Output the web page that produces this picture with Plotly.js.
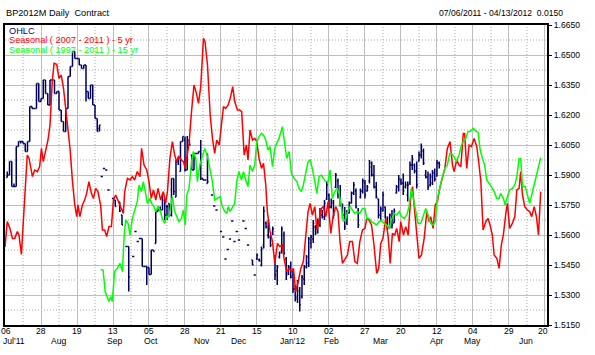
<!DOCTYPE html>
<html>
<head>
<meta charset="utf-8">
<script src="https://cdn.plot.ly/plotly-3.0.1.min.js"></script>
<style>html,body{margin:0;padding:0;background:#fff;}#chart{width:595px;height:355px;}</style>
</head>
<body>
<div id="chart"></div>
<script>
// ---------- DATA ----------
// x axis = trading-day number counted from 07/06/2011
const dayTickText = ['06','28','19','13','05','28','21','15','10','02','27','20','12','04','29','20'];
const dayTickDays = [0,16,32,48,64,80,96,112,128,144,160,176,192,208,224,240];
const monthNames = ["Jul'11","Aug","Sep","Oct","Nov","Dec","Jan'12","Feb","Mar","Apr","May","Jun"];
const monthDays  = [0,23.8,48.9,64.9,87.4,104,127.6,144.9,166.7,192,207.6,231.6];
const priceTicks = [1.515,1.530,1.545,1.560,1.575,1.590,1.605,1.620,1.635,1.650,1.665];

const ohlcDay = [1,2,3,4,5,6,7,8,9,10,11,12,13,14,15,16,17,18,19,20,21,22,23,24,25,26,27,28,29,30,31,32,33,34,35,36,37,38,39,40,41,42,
 43,44,45,46,48,49,51,52,54,55,57,58,59,60,61,62,63,64,65,66,67,68,69,70,71,72,73,74,75,76,77,78,79,80,81,82,83,84,85,86,87,88,89,90,
 92,93,94,96,97,98,99,100,101,102,103,104,106,107,108,
 110,111,112,113,114,115,116,117,118,119,120,121,122,123,124,125,126,127,128,129,130,131,132,133,134,135,136,137,138,139,140,141,142,143,144,145,146,147,148,149,150,
 151,152,153,154,155,156,157,158,159,160,161,162,163,164,165,166,167,168,169,170,171,172,173,174,175,176,177,178,179,180,181,182,183,184,185,186,187,188,189,190,191,192,193];
const ohlcOpen = [1.5887,1.5900,1.5967,1.5842,1.5842,1.6042,1.6067,1.6067,1.6058,1.6017,1.6067,1.6242,1.6233,1.6233,1.6358,1.6267,1.6283,1.6375,1.6308,1.6250,1.6375,1.6375,1.6308,1.6317,1.6225,1.6167,1.6117,1.6233,1.6392,1.6442,1.6517,1.6483,1.6483,1.6450,1.6433,1.6450,1.6317,1.6283,1.6350,1.6250,1.6183,1.6133,
 1.5892,1.5933,1.5925,1.5825,1.5783,1.5775,1.5765,1.5700,1.5542,1.5542,1.5492,1.5617,1.5567,1.5583,1.5583,1.5442,1.5442,1.5437,1.5403,1.5525,1.5558,1.5717,1.5733,1.5725,1.5775,1.5742,1.5758,1.5700,1.5883,1.5790,1.5967,1.5917,1.6067,1.6075,1.5925,1.6075,1.6000,1.5925,1.6008,1.6008,1.6017,1.5883,1.5875,1.5858,
 1.5800,1.5745,1.5725,1.5617,1.5590,1.5480,1.5528,1.5580,1.5670,1.5567,1.5617,1.5575,1.5670,1.5633,1.5550,
 1.5475,1.5400,1.5483,1.5475,1.5450,1.5550,1.5660,1.5600,1.5590,1.5610,1.5490,1.5420,1.5490,1.5520,1.5600,1.5480,1.5410,1.5440,1.5400,1.5330,1.5290,1.5320,1.5290,1.5380,1.5440,1.5460,1.5560,1.5580,1.5640,1.5620,1.5650,1.5700,1.5690,1.5780,1.5800,1.5740,1.5760,1.5840,1.5870,1.5800,1.5740,
 1.5700,1.5660,1.5710,1.5760,1.5810,1.5820,1.5720,1.5790,1.5820,1.5860,1.5820,1.5870,1.5940,1.5900,1.5840,1.5780,1.5700,1.5720,1.5740,1.5680,1.5640,1.5690,1.5660,1.5810,1.5840,1.5870,1.5860,1.5840,1.5800,1.5860,1.5950,1.5950,1.5920,1.5970,1.6000,1.6020,1.5900,1.5890,1.5850,1.5860,1.5910,1.5895,1.5960];
const ohlcHigh = [1.5917,1.5967,1.5967,1.5858,1.6042,1.6067,1.6067,1.6067,1.6058,1.6067,1.6242,1.6242,1.6233,1.6358,1.6358,1.6283,1.6375,1.6375,1.6308,1.6375,1.6375,1.6375,1.6317,1.6317,1.6225,1.6167,1.6233,1.6392,1.6442,1.6517,1.6517,1.6483,1.6483,1.6450,1.6450,1.6450,1.6317,1.6350,1.6350,1.6250,1.6183,1.6150,
 1.5892,1.5933,1.5925,1.5825,1.5783,1.5775,1.5765,1.5700,1.5542,1.5542,1.5492,1.5617,1.5567,1.5583,1.5583,1.5442,1.5442,1.5437,1.5525,1.5525,1.5717,1.5742,1.5742,1.5808,1.5775,1.5750,1.5758,1.5883,1.5883,1.5975,1.5992,1.6067,1.6092,1.6092,1.6095,1.6075,1.6000,1.6008,1.6008,1.6017,1.6075,1.5883,1.5875,1.6008,
 1.5800,1.5745,1.5725,1.5617,1.5590,1.5480,1.5528,1.5580,1.5670,1.5567,1.5617,1.5575,1.5670,1.5633,1.5550,
 1.5475,1.5400,1.5508,1.5483,1.5542,1.5742,1.5667,1.5675,1.5600,1.5642,1.5500,1.5450,1.5517,1.5642,1.5617,1.5490,1.5450,1.5467,1.5425,1.5350,1.5375,1.5340,1.5400,1.5450,1.5500,1.5590,1.5600,1.5675,1.5650,1.5683,1.5735,1.5725,1.5775,1.5865,1.5808,1.5783,1.5775,1.5910,1.5883,1.5850,1.5758,
 1.5740,1.5725,1.5767,1.5817,1.5865,1.5833,1.5735,1.5833,1.5883,1.5875,1.5850,1.5975,1.5967,1.5950,1.5865,1.5783,1.5742,1.5817,1.5742,1.5692,1.5708,1.5725,1.5733,1.5850,1.5900,1.5883,1.5908,1.5867,1.5867,1.5967,1.6000,1.5958,1.5967,1.6017,1.6058,1.6033,1.5925,1.5917,1.5908,1.5925,1.5933,1.5975,1.5967];
const ohlcLow = [1.5887,1.5900,1.5842,1.5842,1.5842,1.6042,1.6058,1.6058,1.6017,1.6017,1.6067,1.6233,1.6233,1.6233,1.6267,1.6267,1.6283,1.6308,1.6250,1.6250,1.6375,1.6308,1.6308,1.6225,1.6167,1.6117,1.6117,1.6233,1.6392,1.6442,1.6483,1.6483,1.6450,1.6433,1.6433,1.6267,1.6283,1.6283,1.6250,1.6183,1.6117,1.6117,
 1.5892,1.5933,1.5925,1.5825,1.5783,1.5742,1.5715,1.5650,1.5542,1.5317,1.5492,1.5617,1.5567,1.5583,1.5442,1.5442,1.5350,1.5403,1.5403,1.5517,1.5558,1.5717,1.5717,1.5725,1.5675,1.5675,1.5692,1.5692,1.5800,1.5790,1.5950,1.5917,1.6067,1.5917,1.5925,1.6050,1.5925,1.5925,1.6008,1.6008,1.5875,1.5875,1.5875,1.5858,
 1.5800,1.5745,1.5725,1.5617,1.5590,1.5480,1.5528,1.5580,1.5670,1.5567,1.5617,1.5575,1.5670,1.5633,1.5550,
 1.5450,1.5400,1.5475,1.5467,1.5442,1.5533,1.5633,1.5583,1.5540,1.5600,1.5375,1.5350,1.5483,1.5508,1.5500,1.5375,1.5400,1.5383,1.5310,1.5267,1.5260,1.5217,1.5283,1.5350,1.5433,1.5440,1.5533,1.5560,1.5600,1.5608,1.5640,1.5683,1.5675,1.5775,1.5733,1.5733,1.5683,1.5835,1.5783,1.5742,1.5683,
 1.5625,1.5650,1.5708,1.5758,1.5800,1.5733,1.5635,1.5783,1.5808,1.5783,1.5817,1.5858,1.5892,1.5833,1.5783,1.5683,1.5667,1.5717,1.5683,1.5625,1.5633,1.5633,1.5660,1.5808,1.5817,1.5850,1.5800,1.5833,1.5767,1.5850,1.5925,1.5908,1.5833,1.5967,1.5983,1.5950,1.5883,1.5825,1.5842,1.5850,1.5867,1.5892,1.5933];
const ohlcClose = [1.5900,1.5967,1.5842,1.5842,1.6042,1.6067,1.6067,1.6058,1.6017,1.6067,1.6242,1.6233,1.6233,1.6358,1.6267,1.6283,1.6375,1.6308,1.6250,1.6375,1.6375,1.6308,1.6317,1.6225,1.6167,1.6117,1.6233,1.6392,1.6442,1.6517,1.6483,1.6483,1.6450,1.6433,1.6450,1.6317,1.6283,1.6350,1.6250,1.6183,1.6117,1.6150,
 1.5892,1.5933,1.5925,1.5825,1.5783,1.5742,1.5720,1.5650,1.5542,1.5390,1.5492,1.5617,1.5567,1.5583,1.5442,1.5442,1.5437,1.5403,1.5525,1.5517,1.5717,1.5733,1.5725,1.5808,1.5700,1.5742,1.5700,1.5883,1.5817,1.5967,1.5983,1.6067,1.6092,1.5925,1.6075,1.6050,1.5925,1.6008,1.6008,1.6017,1.5883,1.5875,1.5875,1.5867,
 1.5800,1.5745,1.5725,1.5617,1.5590,1.5480,1.5528,1.5580,1.5670,1.5567,1.5617,1.5575,1.5670,1.5633,1.5550,
 1.5450,1.5400,1.5500,1.5470,1.5530,1.5720,1.5640,1.5660,1.5550,1.5630,1.5400,1.5440,1.5510,1.5630,1.5510,1.5400,1.5440,1.5390,1.5330,1.5280,1.5360,1.5250,1.5390,1.5440,1.5490,1.5580,1.5590,1.5660,1.5610,1.5670,1.5720,1.5690,1.5760,1.5850,1.5740,1.5770,1.5700,1.5900,1.5800,1.5760,1.5700,
 1.5640,1.5710,1.5760,1.5810,1.5850,1.5740,1.5650,1.5820,1.5870,1.5800,1.5840,1.5960,1.5900,1.5840,1.5790,1.5700,1.5730,1.5800,1.5690,1.5640,1.5700,1.5650,1.5720,1.5840,1.5880,1.5860,1.5820,1.5850,1.5850,1.5950,1.5980,1.5920,1.5850,1.6000,1.6040,1.5960,1.5890,1.5840,1.5890,1.5910,1.5880,1.5960,1.5950];

// Seasonal (2007 - 2011) 5 yr
const seas5Day = [0,1,2.2,3.3,4.3,5.5,6.2,7.3,8.4,9.9,10.7,12.2,13.2,14.4,15.4,16.2,17,18.1,19.1,20,21,21.8,23,24,25,26,27,27.7,28.9,30,31,31.9,32.4,33.3,34.4,35.4,36.3,37.3,38.4,39.3,40.3,41.3,42.5,43.3,44.3,45.2,46.2,47.3,48.2,49.2,50.2,51.4,52.6,53.2,54.4,55.6,56.6,57.6,58.8,60,60.7,61.8,63,64,65,66,67,68,69.2,70.4,71.4,72.2,73.3,74.4,75.4,76.3,77.3,78.4,79.3,80.1,80.9,81.8,82.9,84,85.1,86,87,88.2,88.9,90,91.2,92.2,93.2,94.1,95.2,96.2,97.1,98.1,99.2,100.3,101.2,102.1,103.3,104.3,105.2,106.3,107.3,108,108.9,110,111,111.9,112.9,114,114.9,115.9,116.6,117.8,118.9,119.9,121.1,122.1,123.3,124,125.2,126.3,127.3,128.2,129.2,130.3,131.5,132.6,133.7,134.7,135.6,136.6,137.7,138.6,139.6,140.6,141.5,142.6,143.6,144.8,145.8,147,148,148.9,150,151,152.2,153.2,154.4,155.5,156.6,157.7,158.9,160,160.8,161.8,162.9,164,165.2,166.1,167,168,169.2,170.3,171.2,172.2,173.2,174.1,175.2,175.9,177.1,178.1,179.2,180.3,181.1,182.1,183,184,185.1,186.3,187.5,188.5,189.2,190.3,191.2,192.2,193.2,194.4,195.5,196.6,197.8,198.9,199.6,200.8,201.8,202.6,203.7,204.3,205.2,206.3,207.3,208.5,209.7,210.7,211.5,212.5,213.7,214.7,215.6,216.6,217.4,218.6,219.6,220.6,221.5,222.6,223.3,224.3,225.5,226.6,227.5,228.5,229.2,230,231,232.2,233.2,234.1,235.2,236.2,237.1,238.1];
const seas5Val = [1.5540,1.5667,1.5633,1.5583,1.5583,1.5617,1.5600,1.5503,1.5717,1.6000,1.5983,1.5892,1.5925,1.5917,1.5942,1.6033,1.5967,1.6033,1.6075,1.6150,1.6367,1.6458,1.6453,1.6383,1.6400,1.6333,1.6225,1.6150,1.6033,1.5867,1.5750,1.5692,1.5750,1.5692,1.5750,1.5775,1.5808,1.5867,1.5808,1.5783,1.5833,1.5817,1.5750,1.5625,1.5625,1.5592,1.5642,1.5642,1.5775,1.5800,1.5775,1.5742,1.5708,1.5817,1.5883,1.5875,1.5892,1.5875,1.5917,1.5892,1.6033,1.5950,1.5925,1.5867,1.5783,1.5825,1.5775,1.5833,1.5775,1.5817,1.5758,1.5817,1.5983,1.6067,1.6000,1.5967,1.5992,1.5975,1.5967,1.5933,1.5992,1.6058,1.6217,1.6350,1.6308,1.6258,1.6342,1.6583,1.6567,1.6450,1.6200,1.6083,1.6008,1.6075,1.6050,1.6150,1.6242,1.6233,1.6250,1.6292,1.6342,1.6267,1.6225,1.6225,1.6217,1.6000,1.6050,1.5975,1.6125,1.6075,1.6083,1.6067,1.5983,1.5933,1.5958,1.5850,1.5717,1.5617,1.5567,1.5458,1.5558,1.5542,1.5550,1.5483,1.5417,1.5433,1.5417,1.5433,1.5317,1.5367,1.5433,1.5467,1.5583,1.5717,1.5758,1.5700,1.5742,1.5625,1.5675,1.5733,1.5742,1.5692,1.5767,1.5608,1.5692,1.5742,1.5717,1.5567,1.5458,1.5475,1.5500,1.5567,1.5567,1.5467,1.5458,1.5567,1.5625,1.5633,1.5683,1.5675,1.5650,1.5550,1.5408,1.5433,1.5558,1.5583,1.5683,1.5592,1.5458,1.5608,1.5600,1.5633,1.5567,1.5667,1.5600,1.5642,1.5600,1.5783,1.5842,1.5717,1.5592,1.5483,1.5500,1.5583,1.5717,1.5667,1.5692,1.5633,1.5750,1.5767,1.5833,1.5892,1.5933,1.6033,1.6067,1.5950,1.5917,1.5975,1.5950,1.5942,1.6108,1.6108,1.5933,1.6050,1.6042,1.6083,1.6042,1.5950,1.5867,1.5625,1.5667,1.5683,1.5650,1.5600,1.5500,1.5483,1.5433,1.5550,1.5600,1.5708,1.5758,1.5633,1.5658,1.5692,1.5825,1.5833,1.5917,1.5800,1.5742,1.5725,1.5717,1.5692,1.5742,1.5692,1.5600,1.5817];

// Seasonal (1997 - 2011) 15 yr
const seas15Day = [42.5,43.6,44.5,45.5,46.2,47,47.7,48.7,49.9,51.1,52.2,52.9,53.6,54.7,55.6,56.6,57.6,58.8,59.6,60.6,61.5,62.5,63.3,64.3,65.2,66.2,67,68,68.9,69.9,71,71.9,72.9,73.6,74.4,75.4,76.3,77.3,78.4,79.3,80.1,80.8,81.8,82.9,83.7,84.8,85.5,86.6,87.7,88.8,90,91.2,92.2,93.2,94.4,95.6,96.6,97.7,98.6,99.2,100,101.1,102.1,103,104,105.1,106,107,108,108.9,110,111,111.9,112.9,114,114.9,115.9,116.9,117.8,118.9,119.9,120.8,121.8,123.3,124.3,125.2,126.3,127.3,128.5,129.7,130.7,131.7,132.6,133.7,134.7,135.6,136.6,137.7,138.6,139.6,140.6,141.5,142.6,143.6,144.5,145.5,146.6,147.7,148.5,149.5,150.4,151.5,152.5,153.4,154.4,155.4,156.6,157.7,158.9,160,160.8,161.8,162.9,164,165.2,166.3,167.3,168.5,169.7,170.7,171.7,172.9,174.1,175.2,176.2,177.4,178.6,179.6,180.6,181.5,182.6,183.6,184.8,186,187,188,189.2,190.3,191.2,192.2,193.4,194.4,195.5,196.6,197.7,198.4,199.6,200.6,201.8,202.9,203.7,204.8,205.8,207,208.2,209.2,210.3,211.2,212.2,213.2,214.1,215.2,216.2,217.4,218.6,219.6,220.3,221.5,222.3,223.3,224.3,225.5,226.6,227.5,228.5,229.2,230,231.2,232.2,233.2,234.1,235.2,236.3,237.4,238.1];
const seas15Val = [1.5428,1.5425,1.5317,1.5292,1.5267,1.5292,1.5267,1.5417,1.5433,1.5458,1.5417,1.5583,1.5675,1.5658,1.5600,1.5683,1.5717,1.5767,1.5850,1.5817,1.5867,1.5808,1.5758,1.5783,1.5758,1.5742,1.5717,1.5742,1.5725,1.5683,1.5658,1.5692,1.5692,1.5742,1.5792,1.5717,1.5692,1.5667,1.5683,1.5725,1.5650,1.5800,1.5833,1.5967,1.6017,1.5983,1.5867,1.5950,1.5992,1.6033,1.5992,1.5917,1.5867,1.5775,1.5783,1.5792,1.5742,1.5717,1.5708,1.5742,1.5717,1.5742,1.5758,1.5867,1.5917,1.5875,1.5917,1.5875,1.5842,1.5950,1.5917,1.5950,1.6067,1.6092,1.6108,1.6100,1.6075,1.6025,1.6042,1.5942,1.6033,1.6058,1.6083,1.6142,1.6042,1.5983,1.6017,1.5908,1.5883,1.5867,1.5833,1.5817,1.5850,1.5917,1.5967,1.5975,1.5933,1.5867,1.5808,1.5892,1.5900,1.5883,1.5867,1.5867,1.5925,1.5783,1.5817,1.5833,1.5808,1.5742,1.5667,1.5683,1.5725,1.5742,1.5725,1.5708,1.5717,1.5708,1.5733,1.5733,1.5683,1.5683,1.5667,1.5658,1.5650,1.5667,1.5675,1.5658,1.5650,1.5633,1.5675,1.5708,1.5700,1.5717,1.5692,1.5683,1.5700,1.5742,1.5833,1.5783,1.5725,1.5658,1.5658,1.5700,1.5733,1.5700,1.5658,1.5650,1.5667,1.5783,1.5850,1.5892,1.5933,1.5950,1.6008,1.6008,1.5992,1.5967,1.6000,1.6050,1.6067,1.6083,1.6117,1.6120,1.6133,1.6120,1.6113,1.6025,1.5983,1.5950,1.5875,1.5858,1.5842,1.5817,1.5783,1.5783,1.5808,1.5783,1.5750,1.5792,1.5825,1.5833,1.5850,1.5892,1.5983,1.5983,1.5842,1.5842,1.5800,1.5758,1.5800,1.5850,1.5900,1.5950,1.5987];

// ---------- STYLE ----------
const NAVY = '#000060', RED = '#ff0000', GREEN = '#00ff00';
const FONT = '"Liberation Sans", Arial, Helvetica, sans-serif';
const LABEL_SIZE = 8.6;

const traces = [
  {type:'ohlc', x:ohlcDay, open:ohlcOpen, high:ohlcHigh, low:ohlcLow, close:ohlcClose,
   increasing:{line:{color:NAVY, width:1.5}}, decreasing:{line:{color:NAVY, width:1.5}},
   tickwidth:0.5, hoverinfo:'skip', showlegend:false},
  {type:'scatter', mode:'lines', x:seas5Day, y:seas5Val, line:{color:RED, width:1.5}, hoverinfo:'skip', showlegend:false},
  {type:'scatter', mode:'lines', x:seas15Day, y:seas15Val, line:{color:GREEN, width:1.5}, hoverinfo:'skip', showlegend:false}
];

// dotted half-step grid lines (between the labelled grid lines)
const shapes = [];
for (let i = 0; i + 1 < dayTickDays.length; i++) {
  const d = (dayTickDays[i] + dayTickDays[i+1]) / 2;
  shapes.push({type:'line', layer:'below', xref:'x', yref:'paper', x0:d, x1:d, y0:0, y1:1, line:{color:'#a8a8a8', width:1, dash:'1px,2px'}});
}
for (let i = 0; i + 1 < priceTicks.length; i++) {
  const p = (priceTicks[i] + priceTicks[i+1]) / 2;
  shapes.push({type:'line', layer:'below', xref:'paper', yref:'y', x0:0, x1:1, y0:p, y1:p, line:{color:'#a8a8a8', width:1, dash:'1px,2px'}});
}

const annotations = [
  {text:'BP2012M Daily \u00a0Contract', xref:'paper', yref:'paper', x:0, y:1, xanchor:'left', yanchor:'middle', xshift:-1, yshift:12, showarrow:false, font:{size:9.2, color:'#000'}},
  {text:'07/06/2011 - 04/13/2012 \u00a00.0150', xref:'paper', yref:'paper', x:1, y:1, xanchor:'right', yanchor:'middle', xshift:18, yshift:12, showarrow:false, font:{size:LABEL_SIZE, color:'#000'}},
  {text:'OHLC', xref:'paper', yref:'paper', x:0, y:1, xanchor:'left', yanchor:'middle', xshift:2, yshift:-5.5, showarrow:false, font:{size:9.2, color:'#000080'}},
  {text:'Seasonal ( 2007 - 2011 ) - 5 yr', xref:'paper', yref:'paper', x:0, y:1, xanchor:'left', yanchor:'middle', xshift:2, yshift:-15, showarrow:false, font:{size:9.2, color:RED}},
  {text:'Seasonal ( 1997 - 2011 ) - 15 yr', xref:'paper', yref:'paper', x:0, y:1, xanchor:'left', yanchor:'middle', xshift:2, yshift:-24.5, showarrow:false, font:{size:9.2, color:GREEN}}
];
dayTickDays.forEach((d, i) => {
  annotations.push({text:dayTickText[i], xref:'x', yref:'paper', x:d, y:0, xanchor:'center', yanchor:'middle',
    xshift: i === 0 ? 1 : (i === dayTickDays.length - 1 ? -2 : 0), yshift:-5.5, showarrow:false, font:{size:LABEL_SIZE, color:'#000'}});
});
monthNames.forEach((m, i) => {
  annotations.push({text:m, xref:'x', yref:'paper', x:monthDays[i], y:0, xanchor: i === 0 ? 'left' : 'center', xshift: i === 0 ? -4 : 0,
    yanchor:'middle', yshift:-15.5, showarrow:false, font:{size:LABEL_SIZE, color:'#000'}});
});

const layout = {
  width:595, height:355,
  margin:{l:5, r:48, t:25, b:30, pad:0},
  paper_bgcolor:'#ffffff', plot_bgcolor:'#ffffff',
  font:{family:FONT, size:LABEL_SIZE, color:'#000'},
  showlegend:false,
  xaxis:{
    range:[0, 240.9], tickmode:'array', tickvals:dayTickDays, ticktext:dayTickText, showticklabels:false,
    showgrid:true, gridcolor:'#bdbdbd', gridwidth:1,
    showline:true, linecolor:'#000', linewidth:2, mirror:true, zeroline:false,
    ticks:'', rangeslider:{visible:false}, fixedrange:true
  },
  yaxis:{
    side:'right', range:[1.515, 1.665], tickmode:'array', tickvals:priceTicks,
    ticktext:priceTicks.map(v => v.toFixed(4)),
    showgrid:true, gridcolor:'#bdbdbd', gridwidth:1,
    showline:true, linecolor:'#000', linewidth:2, mirror:true, zeroline:false,
    ticks:'outside', ticklen:3, tickcolor:'#000', tickwidth:1, tickfont:{size:LABEL_SIZE},
    fixedrange:true
  },
  shapes: shapes,
  annotations: annotations
};

Plotly.newPlot('chart', traces, layout, {staticPlot:true, displayModeBar:false});
</script>
</body>
</html>
